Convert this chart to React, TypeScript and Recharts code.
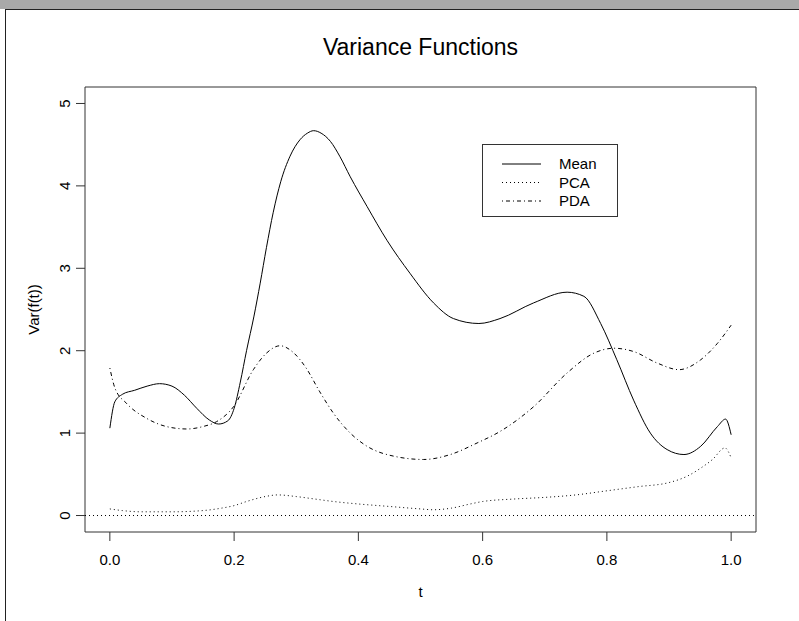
import React from 'react';
import { LineChart, Line, XAxis, YAxis, ReferenceLine, ReferenceArea, Legend, Label } from 'recharts';

const FONT = '"Liberation Sans", Arial, Helvetica, sans-serif';

const title = 'Variance Functions';
const xLabel = 't';
const yLabel = 'Var(f(t))';
const seriesNames = ['Mean', 'PCA', 'PDA'];
const xTicks = [0, 0.2, 0.4, 0.6, 0.8, 1.0];
const yTicks = [0, 1, 2, 3, 4, 5];

const tMean = [0, 0.008, 0.02, 0.04, 0.06, 0.08, 0.1, 0.12, 0.14, 0.16, 0.175, 0.19, 0.2, 0.21, 0.22, 0.232, 0.242, 0.252, 0.263, 0.275, 0.29, 0.306, 0.318, 0.328, 0.34, 0.355, 0.37, 0.387, 0.414, 0.446, 0.483, 0.521, 0.553, 0.594, 0.628, 0.682, 0.736, 0.763, 0.79, 0.816, 0.843, 0.87, 0.897, 0.924, 0.951, 0.978, 0.991, 1.0];
const meanVals = [1.06, 1.38, 1.47, 1.52, 1.57, 1.6, 1.57, 1.46, 1.3, 1.16, 1.11, 1.15, 1.3, 1.62, 2.0, 2.42, 2.82, 3.25, 3.68, 4.05, 4.36, 4.56, 4.64, 4.67, 4.64, 4.54, 4.36, 4.11, 3.75, 3.34, 2.94, 2.58, 2.39, 2.33, 2.39, 2.58, 2.71, 2.66, 2.33, 1.89, 1.4, 1.0, 0.8, 0.74, 0.84, 1.08, 1.17, 0.98];

const tPca = [0, 0.02, 0.05, 0.1, 0.15, 0.18, 0.2, 0.22, 0.25, 0.27, 0.3, 0.33, 0.36, 0.4, 0.45, 0.5, 0.52, 0.55, 0.58, 0.6, 0.65, 0.7, 0.75, 0.8, 0.85, 0.9, 0.93, 0.95, 0.97, 0.99, 1.0];
const pcaVals = [0.08, 0.06, 0.045, 0.045, 0.06, 0.09, 0.12, 0.17, 0.23, 0.25, 0.23, 0.2, 0.17, 0.14, 0.11, 0.08, 0.07, 0.09, 0.14, 0.17, 0.2, 0.22, 0.25, 0.3, 0.35, 0.4, 0.48, 0.57, 0.68, 0.82, 0.7];

const tPda = [0, 0.008, 0.027, 0.059, 0.091, 0.124, 0.15, 0.172, 0.199, 0.231, 0.252, 0.274, 0.295, 0.315, 0.338, 0.36, 0.387, 0.414, 0.457, 0.505, 0.548, 0.591, 0.628, 0.682, 0.736, 0.779, 0.811, 0.843, 0.881, 0.916, 0.951, 0.978, 1.0];
const pdaVals = [1.79, 1.55, 1.36, 1.18, 1.08, 1.05, 1.08, 1.14, 1.32, 1.77, 1.97, 2.06, 1.98, 1.8, 1.5, 1.24, 1.0, 0.84, 0.72, 0.68, 0.74, 0.88, 1.02, 1.32, 1.73, 1.97, 2.03, 1.99, 1.85, 1.77, 1.89, 2.09, 2.31];

const meanData = tMean.map((t, i) => ({ t, v: meanVals[i] }));
const pcaData = tPca.map((t, i) => ({ t, v: pcaVals[i] }));
const pdaData = tPda.map((t, i) => ({ t, v: pdaVals[i] }));

const DOT = '1 3';
const DOTDASH = '1 3 4 3';
const dashes = [undefined, DOT, DOTDASH];

const YTick = (props: any) => {
  const { x, y, payload } = props;
  return (
    <text
      transform={`translate(${x},${y}) rotate(-90)`}
      textAnchor="middle"
      fontSize={15}
      fontFamily={FONT}
      fill="#000"
    >
      {payload.value}
    </text>
  );
};

const LegendBox = () => (
  <svg width={137} height={74} style={{ display: 'block' }}>
    <rect x={0.5} y={0.5} width={135} height={72} fill="#fff" stroke="#333" strokeWidth={1} />
    {seriesNames.map((name, i) => {
      const cy = 20 + i * 18.5;
      return (
        <g key={name}>
          <line x1={20} x2={59} y1={cy} y2={cy} stroke="#000" strokeWidth={1} strokeDasharray={dashes[i]} />
          <text x={77} y={cy + 5.4} fontSize={15} fontFamily={FONT} fill="#000">
            {name}
          </text>
        </g>
      );
    })}
  </svg>
);

const YLabel = (props: any) => {
  const { viewBox } = props;
  const cx = viewBox.x + 39;
  const cy = viewBox.y + viewBox.height / 2;
  return (
    <text
      transform={`translate(${cx},${cy}) rotate(-90)`}
      textAnchor="middle"
      fontSize={15}
      fontFamily={FONT}
      fill="#000"
    >
      {yLabel}
    </text>
  );
};

export default function App() {
  return (
    <div style={{ position: 'absolute', left: 0, top: 0, width: 799, height: 621, background: '#fff', overflow: 'hidden' }}>
      <LineChart width={799} height={621} margin={{ top: 87, right: 43, bottom: 0, left: 0 }}>
        <XAxis
          dataKey="t"
          type="number"
          domain={[-0.04, 1.04]}
          ticks={xTicks}
          allowDataOverflow
          allowDuplicatedCategory={false}
          axisLine={false}
          tickSize={9}
          tickMargin={13}
          stroke="#333"
          height={89}
          tickFormatter={(v: number) => v.toFixed(1)}
          tick={{ fontSize: 15, fontFamily: FONT, fill: '#000' }}
        >
          <Label value={xLabel} position="insideBottom" offset={24} style={{ fontSize: 15, fontFamily: FONT, fill: '#000' }} />
        </XAxis>
        <YAxis
          type="number"
          domain={[-0.2, 5.2]}
          ticks={yTicks}
          allowDataOverflow
          axisLine={false}
          tickSize={9}
          tickMargin={6}
          stroke="#333"
          width={85}
          tick={<YTick />}
        >
          <Label content={<YLabel />} />
        </YAxis>
        <ReferenceArea x1={-0.04} x2={1.04} y1={-0.2} y2={5.2} fill="none" stroke="#333" strokeWidth={1} fillOpacity={0} strokeOpacity={1} />
        <ReferenceLine y={0} stroke="#000" strokeWidth={1} strokeDasharray={DOT} />
        <Line data={meanData} dataKey="v" name={seriesNames[0]} type="monotone" stroke="#000" strokeWidth={1} dot={false} activeDot={false} isAnimationActive={false} />
        <Line data={pcaData} dataKey="v" name={seriesNames[1]} type="monotone" stroke="#000" strokeWidth={1} strokeDasharray={DOT} dot={false} activeDot={false} isAnimationActive={false} />
        <Line data={pdaData} dataKey="v" name={seriesNames[2]} type="monotone" stroke="#000" strokeWidth={1} strokeDasharray={DOTDASH} dot={false} activeDot={false} isAnimationActive={false} />
        <Legend
          layout="vertical"
          align="center"
          verticalAlign="middle"
          content={() => <LegendBox />}
          wrapperStyle={{ position: 'absolute', left: 482, top: 144, width: 137, height: 74 }}
        />
      </LineChart>
      <svg width={799} height={621} style={{ position: 'absolute', left: 0, top: 0, pointerEvents: 'none' }}>
        <rect x={0} y={0} width={799} height={9} fill="#a9a9a9" />
        <line x1={5} x2={799} y1={9.5} y2={9.5} stroke="#222" strokeWidth={1} />
        <line x1={5.5} x2={5.5} y1={9} y2={621} stroke="#222" strokeWidth={1} />
        <text x={420.5} y={55} textAnchor="middle" fontSize={23} fontFamily={FONT} fill="#000">
          {title}
        </text>
      </svg>
    </div>
  );
}
